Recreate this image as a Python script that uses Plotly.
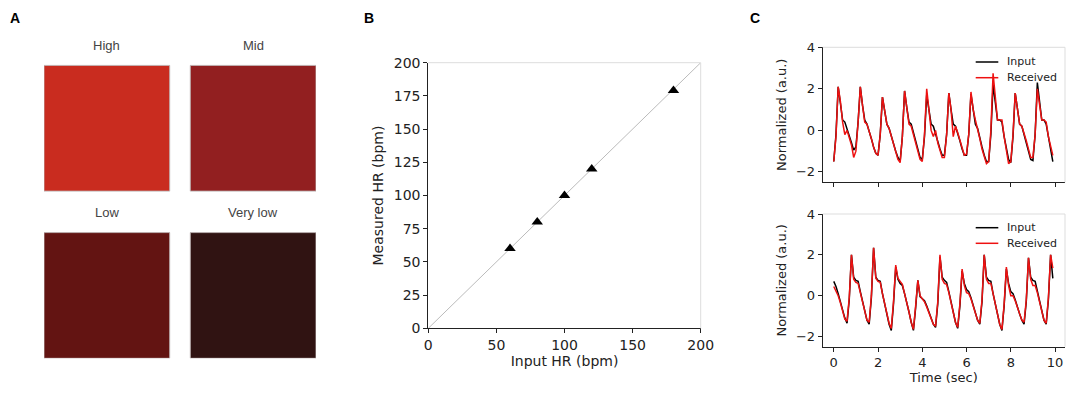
import plotly.graph_objects as go

# panel A: colour swatches
swatch_labels = ["High", "Mid", "Low", "Very low"]
swatch_colors = ["#c92c1f", "#921f20", "#631412", "#301312"]

# panel B: heart rate agreement
input_hr = [60, 80, 100, 120, 180]
measured_hr = [60, 80, 100, 120, 179]
identity = [0, 200]

# panel C: waveforms, sampled every 0.1 s
time_s = [round(i * 0.1, 1) for i in range(100)]

top_input = [
    -1.5, -0.2, 2.1, 1.3, 0.5, 0.4, 0.1, -0.3, -0.6, -0.95,
    -0.8, 0.4, 2.1, 1.2, 0.5, 0.3, 0.0, -0.4, -0.8, -1.1,
    -1.2, -0.2, 1.6, 1.0, 0.3, 0.1, -0.3, -0.7, -1.0, -1.3,
    -1.5, -0.3, 1.9, 1.1, 0.4, 0.3, -0.1, -0.5, -0.9, -1.3,
    -1.4, -0.3, 1.7, 1.0, 0.3, 0.2, -0.2, -0.6, -0.9, -1.2,
    -1.2, -0.2, 1.8, 1.0, 0.3, 0.2, -0.1, -0.5, -0.9, -1.2,
    -1.2, -0.2, 1.75, 1.0, 0.3, 0.1, -0.4, -0.8, -1.2, -1.5,
    -1.5, -0.2, 2.2, 1.3, 0.5, 0.5, 0.4, -0.3, -0.9, -1.4,
    -1.55, -0.3, 1.8, 1.0, 0.3, 0.2, -0.2, -0.6, -1.0, -1.4,
    -1.45, -0.2, 2.3, 1.3, 0.5, 0.5, 0.3, -0.3, -0.9, -1.5,
]
top_received = [
    -1.5, -0.3, 2.1, 1.4, 0.4, -0.2, 0.0, -0.3, -0.7, -1.3,
    -1.0, 0.4, 2.1, 1.2, 0.4, 0.3, 0.0, -0.4, -0.8, -1.1,
    -1.2, -0.2, 1.6, 1.0, 0.3, 0.1, -0.3, -0.7, -1.1, -1.4,
    -1.55, -0.3, 1.9, 1.2, 0.3, 0.2, -0.2, -0.6, -1.0, -1.4,
    -1.5, -0.2, 2.0, 1.1, 0.0, -0.3, 0.0, -0.6, -1.0, -1.3,
    -1.3, -0.2, 1.8, 1.0, -0.3, 0.2, -0.1, -0.5, -0.9, -1.2,
    -1.15, -0.2, 1.85, 1.0, 0.5, 0.1, -0.4, -0.9, -1.3, -1.6,
    -1.5, 0.0, 2.75, 1.5, 0.5, 0.5, 0.5, -0.3, -1.0, -1.6,
    -1.5, -0.2, 1.8, 1.0, 0.3, 0.2, -0.1, -0.5, -0.9, -1.3,
    -1.3, -0.2, 2.0, 1.2, 0.5, 0.5, 0.4, -0.3, -0.8, -1.2,
]
bottom_input = [
    0.7, 0.45, 0.1, -0.3, -0.7, -1.1, -1.35, -0.2, 2.0, 0.9,
    0.75, 0.7, 0.2, -0.3, -0.8, -1.2, -1.4, -0.1, 2.35, 0.9,
    0.75, 0.7, 0.1, -0.4, -0.9, -1.4, -1.7, -0.4, 1.4, 0.8,
    0.6, 0.5, 0.1, -0.3, -0.8, -1.3, -1.7, -0.6, 0.75, -0.05,
    -0.15, -0.25, -0.5, -0.8, -1.1, -1.4, -1.55, -0.4, 1.9, 0.9,
    0.75, 0.65, 0.2, -0.3, -0.8, -1.3, -1.6, -0.5, 1.2, 0.6,
    0.3, 0.2, -0.1, -0.5, -0.9, -1.2, -1.4, -0.3, 2.0, 0.9,
    0.75, 0.7, 0.1, -0.4, -0.9, -1.4, -1.7, -0.5, 1.3, 0.6,
    0.2, 0.1, -0.2, -0.6, -0.9, -1.2, -1.4, -0.3, 1.85, 0.9,
    0.75, 0.7, 0.2, -0.3, -0.8, -1.2, -1.4, -0.2, 2.0, 0.85,
]
bottom_received = [
    0.45, 0.25, 0.0, -0.35, -0.75, -1.15, -1.25, -0.1, 2.0, 0.8,
    0.65, 0.6, 0.15, -0.35, -0.8, -1.2, -1.3, 0.0, 2.35, 0.85,
    0.7, 0.65, 0.1, -0.4, -0.9, -1.35, -1.6, -0.3, 1.5, 0.85,
    0.7, 0.55, 0.1, -0.3, -0.8, -1.3, -1.65, -0.5, 0.75, 0.0,
    -0.15, -0.3, -0.55, -0.85, -1.15, -1.4, -1.5, -0.3, 2.0, 0.8,
    0.6, 0.55, 0.15, -0.35, -0.85, -1.3, -1.55, -0.4, 1.3, 0.5,
    0.15, 0.1, -0.15, -0.5, -0.9, -1.2, -1.35, -0.2, 2.0, 0.8,
    0.6, 0.6, 0.1, -0.4, -0.9, -1.4, -1.65, -0.4, 1.4, 0.5,
    0.0, 0.0, -0.25, -0.6, -0.9, -1.2, -1.3, -0.2, 1.85, 0.8,
    0.5, 0.5, 0.15, -0.3, -0.8, -1.2, -1.35, -0.1, 2.0, 1.35,
]
legend_names = ["Input", "Received"]
line_colors = ["black", "#ee1111"]

W, H = 1080, 396
OFF = 8  # page body margin
FONT = "DejaVu Sans"
INK = "#222222"
LIGHT = "#dddddd"


def px(x):
    return (x - OFF) / W


def py(y):
    return 1 - (y - OFF) / H


fig = go.Figure()

# ---- panel A: swatches on a hidden axis (1 unit = one swatch side)
SW = 125.7  # px per unit
for i, (lab, col) in enumerate(zip(swatch_labels, swatch_colors)):
    c, r = i % 2, i // 2
    x0 = c * 1.164
    y0 = -r * 1.33
    fig.add_shape(type="rect", xref="x3", yref="y3", x0=x0, x1=x0 + 1, y0=y0 - 1, y1=y0,
                  fillcolor=col, line=dict(color="rgba(190,180,180,0.9)", width=1), layer="below")
    fig.add_annotation(xref="x3", yref="y3", x=x0 + 0.5, y=y0 + 0.157, text=lab, showarrow=False,
                       yanchor="middle", font=dict(family="Liberation Sans", size=13, color="#444444"))

# ---- panel B
fig.add_trace(go.Scatter(x=identity, y=identity, mode="lines", line=dict(color="#bbbbbb", width=1),
                         xaxis="x", yaxis="y", showlegend=False, hoverinfo="skip"))
fig.add_trace(go.Scatter(x=input_hr, y=measured_hr, mode="markers",
                         marker=dict(symbol="triangle-up", size=10, color="black"),
                         xaxis="x", yaxis="y", showlegend=False))

# ---- panel C
for (xa, ya), series in [(("x4", "y4"), (top_input, top_received)),
                         (("x5", "y5"), (bottom_input, bottom_received))]:
    for name, ys, col in zip(legend_names, series, line_colors):
        fig.add_trace(go.Scatter(x=time_s, y=ys, mode="lines", name=name, showlegend=False,
                                 line=dict(color=col, width=1.5), xaxis=xa, yaxis=ya))

axis_common = dict(showline=True, linecolor=INK, linewidth=1, ticks="outside", ticklen=4,
                   tickcolor=INK, showgrid=False, zeroline=False, color=INK, automargin=False)

fig.update_layout(
    width=W, height=H,
    margin=dict(l=0, r=0, t=0, b=0),
    paper_bgcolor="white", plot_bgcolor="white",
    font=dict(family=FONT, color=INK),
    showlegend=False,
    xaxis=dict(axis_common, domain=[px(428.3), px(700.7)], range=[0, 200], tickvals=[0, 50, 100, 150, 200],
               tickfont=dict(size=14), title=dict(text="Input HR (bpm)", font=dict(size=14), standoff=2),
               anchor="y"),
    yaxis=dict(axis_common, domain=[py(328.3), py(62.7)], range=[0, 200],
               tickvals=[0, 25, 50, 75, 100, 125, 150, 175, 200],
               tickfont=dict(size=14), title=dict(text="Measured HR (bpm)", font=dict(size=14), standoff=6),
               anchor="x"),
    xaxis3=dict(domain=[px(44), px(44 + 2.164 * SW)], range=[0, 2.164], visible=False, anchor="y3"),
    yaxis3=dict(domain=[py(358.3), py(358.3 - 2.73 * SW)], range=[-2.33, 0.4], visible=False, anchor="x3"),
    xaxis4=dict(axis_common, domain=[px(822.7), px(1065)], range=[-0.5, 10.45], tickvals=[0, 2, 4, 6, 8, 10],
                showticklabels=False, anchor="y4"),
    yaxis4=dict(axis_common, domain=[py(182.3), py(47.3)], range=[-2.5, 4], tickvals=[-2, 0, 2, 4],
                tickfont=dict(size=13), title=dict(text="Normalized (a.u.)", font=dict(size=13), standoff=6),
                anchor="x4"),
    xaxis5=dict(axis_common, domain=[px(822.7), px(1065)], range=[-0.5, 10.45], tickvals=[0, 2, 4, 6, 8, 10],
                tickfont=dict(size=13), title=dict(text="Time (sec)", font=dict(size=13), standoff=2),
                anchor="y5"),
    yaxis5=dict(axis_common, domain=[py(346.7), py(214)], range=[-2.5, 4], tickvals=[-2, 0, 2, 4],
                tickfont=dict(size=13), title=dict(text="Normalized (a.u.)", font=dict(size=13), standoff=6),
                anchor="x5"),
)

# light top/right spines
for xa, ya in [("x", "y"), ("x4", "y4"), ("x5", "y5")]:
    fig.add_shape(type="line", xref=f"{xa} domain", yref=f"{ya} domain", x0=0, x1=1, y0=1, y1=1,
                  line=dict(color=LIGHT, width=1))
    fig.add_shape(type="line", xref=f"{xa} domain", yref=f"{ya} domain", x0=1, x1=1, y0=0, y1=1,
                  line=dict(color=LIGHT, width=1))

# hand-drawn legends (tighter row spacing than plotly's own)
for legend_rows in ([62, 77.7], [227.7, 243.3]):
    for name, col, y in zip(legend_names, line_colors, legend_rows):
        fig.add_shape(type="line", xref="paper", yref="paper", x0=px(975.7), x1=px(998.3),
                      y0=py(y), y1=py(y), line=dict(color=col, width=1.5))
        fig.add_annotation(xref="paper", yref="paper", x=px(1005), y=py(y), text=name, showarrow=False,
                           xanchor="left", yanchor="middle", font=dict(family=FONT, size=11, color=INK))

# panel letters
for letter, x in [("A", 15), ("B", 369), ("C", 755)]:
    fig.add_annotation(xref="paper", yref="paper", x=px(x), y=py(18), text=f"<b>{letter}</b>",
                       showarrow=False, xanchor="center", yanchor="middle",
                       font=dict(family="Liberation Sans", size=14, color="black"))

fig.write_html("out.html")
